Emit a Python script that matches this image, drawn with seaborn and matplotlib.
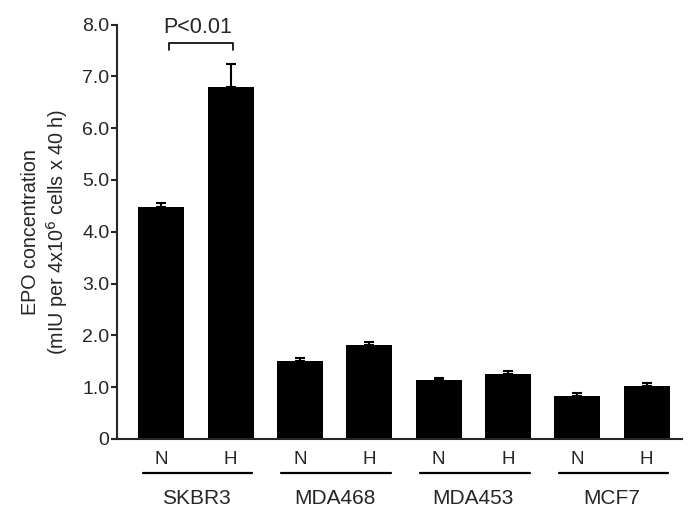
import pandas as pd
import matplotlib
matplotlib.use("Agg")
import matplotlib.pyplot as plt
import matplotlib.transforms as mtransforms
import seaborn as sns

# Data
cell_lines = ["SKBR3", "MDA468", "MDA453", "MCF7"]
conditions = ["N", "H"]
epo_mean = [4.48, 6.80, 1.51, 1.82, 1.13, 1.26, 0.83, 1.02]
epo_err = [0.07, 0.43, 0.06, 0.06, 0.05, 0.06, 0.06, 0.06]
y_ticks = [0, 1, 2, 3, 4, 5, 6, 7, 8]
y_tick_labels = ["0", "1.0", "2.0", "3.0", "4.0", "5.0", "6.0", "7.0", "8.0"]
p_label = "P<0.01"

sns.set_style("ticks")
plt.rcParams["font.family"] = ["Liberation Sans", "DejaVu Sans"]

keys = [f"{c} {k}" for c in cell_lines for k in conditions]
df = pd.DataFrame({"key": keys, "epo": epo_mean})

fig = plt.figure(figsize=(7, 5.2), dpi=100)
ax = fig.add_axes([0.1676, 0.1558, 0.8063, 0.797])

sns.barplot(data=df, x="key", y="epo", order=keys, color="black",
            width=0.664, linewidth=0, errorbar=None, ax=ax)

xpos = list(range(len(keys)))
ax.errorbar(xpos, epo_mean, yerr=[[0] * len(epo_err), epo_err], fmt="none",
            ecolor="black", elinewidth=1.5, capsize=3.6, capthick=1.5)

ax.set_xlim(-0.635, 7.505)
ax.set_ylim(0, 8)
ax.set_yticks(y_ticks)
ax.set_yticklabels(y_tick_labels, fontsize=14)
ax.set_xticks(xpos)
ax.set_xticklabels([k for _ in cell_lines for k in conditions], fontsize=13.5)
ax.tick_params(axis="x", length=0, pad=9)
ax.tick_params(axis="y", length=4.3, width=1.5, pad=1.5)
for s in ["top", "right"]:
    ax.spines[s].set_visible(False)
for s in ["left", "bottom"]:
    ax.spines[s].set_linewidth(1.5)

ax.set_xlabel("")
ax.set_ylabel("EPO concentration\n(mIU per 4x10$^6$ cells x 40 h)", fontsize=14.2,
              labelpad=9, linespacing=1.2)

# group underlines and names
trans = mtransforms.blended_transform_factory(ax.transData, ax.transAxes)
for i, name in enumerate(cell_lines):
    start = 2 * i
    ax.plot([start - 0.27, start + 1.31], [-0.082, -0.082], color="black",
            lw=1.6, transform=trans, clip_on=False)
    ax.text(start + 0.5, -0.143, name, ha="center", va="center", fontsize=15,
            transform=trans)

# significance bracket
ax.plot([0.11, 0.11, 1.035, 1.035], [7.51, 7.64, 7.64, 7.51], color="black",
        lw=1.2, clip_on=False)
ax.text(0.52, 7.94, p_label, ha="center", va="center", fontsize=15.5)

fig.savefig("out.png", dpi=100)
